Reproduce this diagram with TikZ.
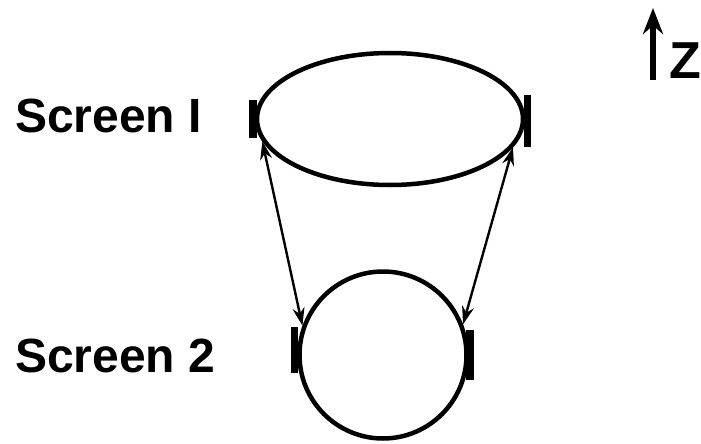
\documentclass[tikz,border=0pt]{standalone}
\usepackage{fontspec}
\setmainfont{Liberation Sans}
\usetikzlibrary{arrows.meta,shapes.geometric}
\begin{document}
\begin{tikzpicture}[x=1pt,y=-1pt,
    ring/.style={draw, line width=4.5pt, inner sep=0pt},
    bar/.style={line width=7.5pt},
    ray/.style={line width=2.4pt, {Stealth[length=18pt,width=12pt]}-{Stealth[length=18pt,width=12pt]}},
    lbl/.style={font=\bfseries\fontsize{48}{48}\selectfont, inner sep=0pt}]
    \useasboundingbox (0,0) rectangle (701,444);

    % Pantallas
    \node[ring, ellipse, minimum width=266pt, minimum height=132pt] (scr1) at (390,119) {};
    \node[ring, circle, minimum size=167pt] (scr2) at (383,355) {};

    % Bordes marcados
    \draw[bar] ([xshift=-2pt,yshift=19pt]scr1.west) -- ([xshift=-2pt,yshift=-19pt]scr1.west);
    \draw[bar] ([xshift=2pt,yshift=24pt]scr1.east) -- ([xshift=2pt,yshift=-28pt]scr1.east);
    \draw[bar] ([xshift=-3pt,yshift=28pt]scr2.west) -- ([xshift=-3pt,yshift=-18pt]scr2.west);
    \draw[bar] ([xshift=1pt,yshift=25pt]scr2.east) -- ([xshift=1pt,yshift=-25pt]scr2.east);

    % Rayos entre pantallas
    \draw[ray] (scr1.190) -- (scr2.160);
    \draw[ray] (scr1.347) -- (scr2.21);

    % Etiquetas
    \node[lbl, anchor=base west] (lbl1) at (15,132) {Screen I};
    \node[lbl, anchor=base west] (lbl2) at (15,372) {Screen 2};

    % Eje z
    \coordinate (zbase) at (653,80);
    \coordinate (ztip) at (653,8);
    \draw[line width=5.5pt, -{Stealth[length=26pt,width=20pt]}] (zbase) -- (ztip);
    \node[lbl, font=\bfseries\fontsize{52}{52}\selectfont, anchor=base west] (zlbl) at (669,78) {Z};
\end{tikzpicture}
\end{document}
